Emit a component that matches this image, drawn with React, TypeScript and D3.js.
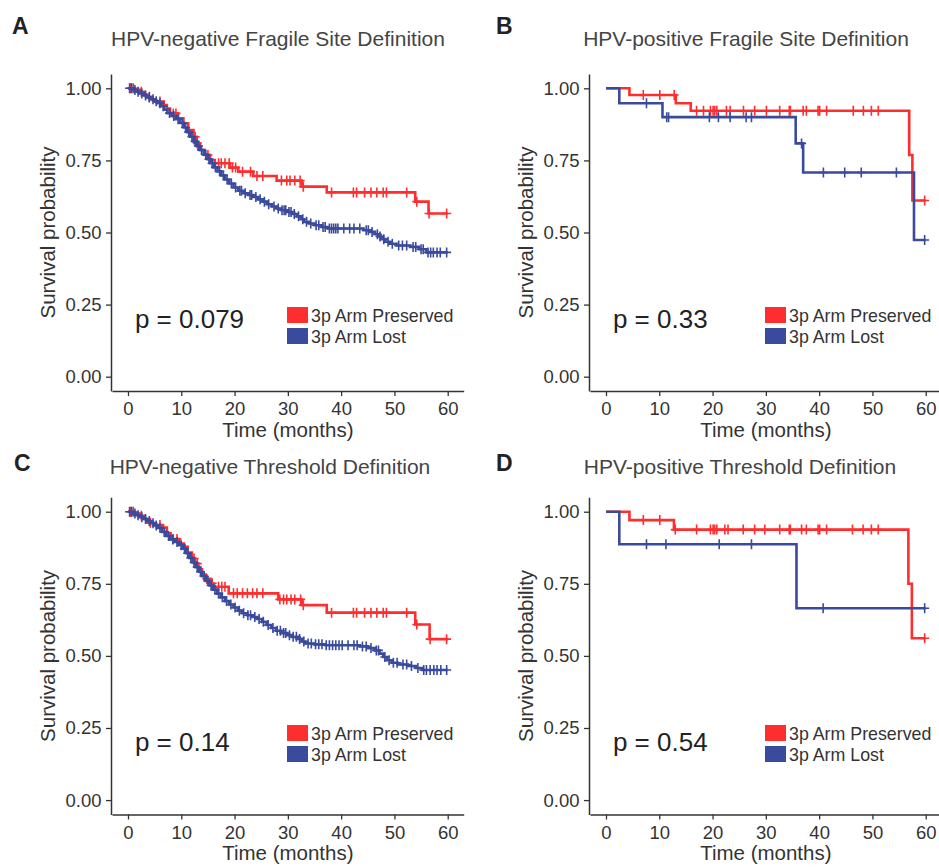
import React, { useEffect, useRef } from 'react';
import * as d3 from 'd3';

type Step = [number, number];

const timeTicks = [0, 10, 20, 30, 40, 50, 60];
const survivalTicks = [0, 0.25, 0.5, 0.75, 1];
const groupNames = ['3p Arm Preserved', '3p Arm Lost'];
const groupColors = ['#ff2e2e', '#3a4b9e'];

const panelLetters = ['A', 'B', 'C', 'D'];
const panelTitles = [
  'HPV-negative Fragile Site Definition',
  'HPV-positive Fragile Site Definition',
  'HPV-negative Threshold Definition',
  'HPV-positive Threshold Definition',
];
const pValueLabels = ['p = 0.079', 'p = 0.33', 'p = 0.14', 'p = 0.54'];
const followUpEnd = 60;

// Kaplan-Meier steps: [month, survival from that month on]
const aPreservedSteps: Step[] = [
  [0, 1.0], [1.2, 0.995], [2.2, 0.988], [3.0, 0.978], [3.5, 0.971], [4.5, 0.962], [5.1, 0.954],
  [6.7, 0.942], [7.3, 0.93], [7.9, 0.913], [9.4, 0.896], [10.4, 0.879], [11.3, 0.855], [12.3, 0.832],
  [12.9, 0.809], [13.5, 0.786], [14.4, 0.769], [15.4, 0.751], [16.3, 0.74], [19.1, 0.725],
  [20.7, 0.711], [23.5, 0.696], [27.9, 0.68], [32.6, 0.659], [37.3, 0.639], [53.9, 0.607], [56.4, 0.566],
];
const aPreservedCensored = [
  0.5, 1.0, 2.5, 4.0, 6.0, 8.5, 9.0, 12.6, 13.0, 15.0, 17.0, 17.5, 18.2, 19.0, 19.6, 20.2, 21.5, 23.0,
  24.2, 25.3, 28.8, 29.8, 30.4, 31.3, 32.3, 32.9, 38.2, 42.3, 42.9, 44.4, 45.6, 46.7, 47.9, 48.5, 52.3,
  54.2, 56.5, 59.8,
];
const aLostSteps: Step[] = [
  [0, 1.0], [0.8, 0.994], [1.5, 0.988], [2.3, 0.982], [3.0, 0.975], [3.6, 0.968], [4.3, 0.962],
  [5.0, 0.955], [5.6, 0.948], [6.2, 0.938], [6.8, 0.926], [7.4, 0.914], [8.2, 0.904], [9.0, 0.893],
  [9.8, 0.88], [10.5, 0.864], [11.1, 0.848], [11.7, 0.832], [12.3, 0.816], [12.9, 0.8], [13.5, 0.786],
  [14.2, 0.77], [14.9, 0.754], [15.5, 0.74], [16.1, 0.726], [16.8, 0.712], [17.5, 0.698], [18.2, 0.684],
  [19.0, 0.67], [19.8, 0.656], [20.7, 0.645], [21.7, 0.636], [22.6, 0.63], [23.5, 0.623], [24.4, 0.615],
  [25.3, 0.607], [26.1, 0.598], [27.0, 0.59], [27.9, 0.583], [28.8, 0.577], [29.8, 0.571], [30.8, 0.564],
  [31.7, 0.556], [32.4, 0.546], [33.0, 0.537], [34.0, 0.531], [35.0, 0.525], [36.3, 0.519], [37.5, 0.514],
  [44.2, 0.508], [45.5, 0.502], [46.3, 0.494], [47.0, 0.486], [47.6, 0.477], [48.3, 0.468], [49.2, 0.461],
  [50.4, 0.455], [53.0, 0.45], [54.6, 0.442], [56.0, 0.431],
];
const aLostCensored = [
  0.3, 0.7, 1.3, 1.9, 2.6, 3.3, 4.0, 4.7, 5.3, 6.0, 6.6, 7.8, 8.6, 9.4, 10.2, 10.8, 11.4, 12.0, 12.6,
  13.2, 13.8, 14.6, 15.2, 15.8, 16.4, 17.2, 17.9, 18.6, 19.4, 20.2, 21.0, 21.3, 22.0, 22.9, 23.2, 24.0,
  24.8, 25.6, 26.4, 27.4, 28.2, 28.9, 29.3, 29.6, 30.2, 30.6, 31.2, 32.0, 32.8, 33.5, 34.3, 35.3, 35.8,
  36.6, 37.0, 37.8, 38.2, 38.6, 39.0, 39.4, 40.5, 41.6, 42.4, 43.5, 44.7, 45.1, 45.8, 46.8, 47.3, 48.0,
  48.8, 49.6, 50.8, 51.5, 52.3, 53.5, 54.0, 55.0, 55.4, 56.3, 56.8, 57.3, 58.0, 58.6, 59.8,
];

const bPreservedSteps: Step[] = [
  [0, 1.0], [4.4, 0.977], [13.1, 0.948], [15.9, 0.922], [56.9, 0.769], [57.5, 0.611],
];
const bPreservedCensored = [
  7.0, 10.1, 12.8, 17.0, 18.3, 19.6, 20.1, 20.4, 20.8, 22.6, 23.3, 25.8, 27.9, 30.1, 32.6, 34.4, 34.6,
  37.0, 37.6, 39.8, 40.1, 41.4, 46.4, 48.3, 49.8, 51.1, 59.8,
];
const bLostSteps: Step[] = [
  [0, 1.0], [2.5, 0.948], [10.6, 0.9], [35.6, 0.809], [37.0, 0.708], [57.8, 0.474],
];
const bLostCensored = [7.6, 11.4, 11.75, 19.4, 21.1, 23.3, 26.3, 27.3, 36.7, 40.8, 44.8, 47.9, 54.5, 59.8];

const cPreservedSteps: Step[] = [
  [0, 1.0], [1.2, 0.994], [2.2, 0.986], [3.0, 0.975], [3.6, 0.962], [4.8, 0.954], [6.5, 0.945],
  [7.3, 0.925], [8.0, 0.905], [9.6, 0.89], [10.5, 0.878], [11.2, 0.858], [12.0, 0.838], [12.6, 0.82],
  [13.2, 0.8], [13.9, 0.782], [14.6, 0.767], [15.5, 0.752], [16.0, 0.74], [18.9, 0.717], [28.2, 0.696],
  [32.6, 0.676], [37.3, 0.65], [53.9, 0.609], [56.6, 0.558],
];
const cPreservedCensored = [
  0.5, 1.0, 2.5, 4.2, 6.0, 8.5, 9.2, 12.4, 13.0, 14.8, 15.8, 17.0, 17.6, 18.2, 19.8, 20.5, 21.5, 22.4,
  23.4, 24.2, 25.3, 28.5, 29.2, 29.8, 30.6, 31.3, 32.4, 32.9, 38.2, 42.3, 42.9, 44.4, 45.6, 46.7, 47.9,
  48.5, 52.3, 54.2, 56.7, 59.8,
];
const cLostSteps: Step[] = [
  [0, 1.0], [0.8, 0.994], [1.5, 0.988], [2.3, 0.981], [3.0, 0.975], [3.6, 0.968], [4.3, 0.96],
  [5.0, 0.952], [5.7, 0.944], [6.4, 0.93], [7.1, 0.916], [7.9, 0.904], [8.8, 0.895], [9.6, 0.884],
  [10.3, 0.872], [10.9, 0.856], [11.5, 0.84], [12.1, 0.824], [12.7, 0.808], [13.3, 0.792], [13.9, 0.776],
  [14.6, 0.76], [15.3, 0.744], [16.0, 0.73], [16.7, 0.716], [17.4, 0.703], [18.2, 0.69], [19.0, 0.678],
  [19.8, 0.668], [20.6, 0.657], [21.4, 0.648], [22.4, 0.641], [23.4, 0.635], [24.3, 0.628], [25.2, 0.618],
  [26.0, 0.607], [26.9, 0.597], [27.8, 0.587], [28.8, 0.579], [29.8, 0.572], [30.8, 0.566], [31.8, 0.559],
  [32.6, 0.55], [33.3, 0.543], [35.0, 0.54], [37.0, 0.537], [43.5, 0.533], [45.0, 0.527], [46.3, 0.519],
  [47.2, 0.508], [47.9, 0.496], [48.6, 0.485], [49.5, 0.476], [50.6, 0.47], [52.5, 0.465], [54.0, 0.458],
  [55.2, 0.451],
];
const cLostCensored = [
  0.3, 0.7, 1.3, 1.9, 2.6, 3.3, 4.0, 4.7, 5.3, 6.0, 6.8, 7.6, 8.4, 9.2, 10.0, 10.6, 11.2, 11.8, 12.4,
  13.0, 13.6, 14.3, 15.0, 15.6, 16.3, 17.0, 17.7, 18.5, 19.3, 20.1, 20.9, 21.7, 22.5, 23.0, 23.8, 24.6,
  25.4, 26.3, 27.2, 28.0, 28.6, 29.2, 29.6, 30.3, 31.0, 31.6, 32.2, 33.0, 33.8, 34.4, 35.2, 35.8, 36.4,
  37.2, 37.8, 38.4, 39.0, 39.6, 40.2, 41.3, 42.4, 43.0, 44.0, 44.7, 45.6, 46.6, 47.0, 48.2, 49.0, 49.8,
  50.5, 51.6, 52.3, 53.2, 54.4, 55.5, 56.0, 56.7, 57.4, 58.0, 58.7, 59.8,
];

const dPreservedSteps: Step[] = [
  [0, 1.0], [4.4, 0.971], [12.75, 0.938], [56.75, 0.75], [57.4, 0.561],
];
const dPreservedCensored = [
  7.0, 10.1, 13.0, 17.0, 19.6, 20.1, 20.4, 20.8, 22.3, 22.9, 25.75, 27.9, 29.8, 32.6, 34.4, 34.6, 36.7,
  37.6, 39.8, 40.1, 41.4, 46.25, 48.25, 49.8, 51.1, 59.8,
];
const dLostSteps: Step[] = [[0, 1.0], [2.5, 0.887], [35.75, 0.665]];
const dLostCensored = [7.6, 11.25, 21.25, 27.3, 40.75, 59.8];

const panelSeries = [
  [{ steps: aPreservedSteps, censored: aPreservedCensored }, { steps: aLostSteps, censored: aLostCensored }],
  [{ steps: bPreservedSteps, censored: bPreservedCensored }, { steps: bLostSteps, censored: bLostCensored }],
  [{ steps: cPreservedSteps, censored: cPreservedCensored }, { steps: cLostSteps, censored: cLostCensored }],
  [{ steps: dPreservedSteps, censored: dPreservedCensored }, { steps: dLostSteps, censored: dLostCensored }],
];

const W = 939;
const H = 867;
const FONT = '"Liberation Sans", Arial, Helvetica, sans-serif';
const colOffset = [0, 478];
const rowOffset = [0, 423.4];
const titleX = [278, 746, 270, 740];
const titleY = [46, 46, 474, 474];
const letterX = [12, 496, 14, 496];
const letterY = [34, 34, 471, 471];
const legendTop = [307, 301.6];

function survivalAt(steps: Step[], t: number) {
  let s = steps[0][1];
  for (const [time, value] of steps) {
    if (time <= t) s = value;
  }
  return s;
}

export default function App() {
  const ref = useRef<SVGSVGElement>(null);

  useEffect(() => {
    const svg = d3.select(ref.current);
    svg.selectAll('*').remove();
    svg.append('rect').attr('width', W).attr('height', H).attr('fill', '#fff');

    panelSeries.forEach((series, i) => {
      const col = i % 2;
      const row = Math.floor(i / 2);
      const g = svg.append('g').attr('transform', `translate(${colOffset[col]},${rowOffset[row]})`);

      const x = d3.scaleLinear().domain([-3, 63]).range([112, 463.7]);
      const y = d3.scaleLinear().domain([-0.05, 1.05]).range([391.1, 73.9]);

      // axes
      const xAxis = g.append('g')
        .attr('transform', `translate(0,${y(-0.05)})`)
        .call(d3.axisBottom(x).tickValues(timeTicks).tickSize(5).tickSizeOuter(0).tickPadding(6));
      const yAxis = g.append('g')
        .attr('transform', `translate(${x(-3) - 1},0)`)
        .call(d3.axisLeft(y).tickValues(survivalTicks).tickFormat(d3.format('.2f')).tickSize(5).tickSizeOuter(0).tickPadding(4.5));
      [xAxis, yAxis].forEach(ax => {
        ax.select('.domain').attr('stroke', '#333').attr('stroke-width', 1.5);
        ax.selectAll('.tick line').attr('stroke', '#333').attr('stroke-width', 1.3);
        ax.selectAll('.tick text')
          .attr('fill', '#333')
          .style('font-family', FONT)
          .style('font-size', '18.5px');
      });

      // curves
      const line = d3.line<Step>()
        .x(d => x(d[0]))
        .y(d => y(d[1]))
        .curve(d3.curveStepAfter);

      series.forEach((s, k) => {
        const last = s.steps[s.steps.length - 1][1];
        const pts: Step[] = [...s.steps, [followUpEnd, last]];
        g.append('path')
          .attr('d', line(pts))
          .attr('fill', 'none')
          .attr('stroke', groupColors[k])
          .attr('stroke-width', 2.6);

        g.append('g')
          .selectAll('path')
          .data(s.censored)
          .enter().append('path')
          .attr('d', t => {
            const cx = x(t);
            const cy = y(survivalAt(s.steps, t));
            return `M${cx - 4.5},${cy}h9M${cx},${cy - 5}v10`;
          })
          .attr('stroke', groupColors[k])
          .attr('stroke-width', 1.6)
          .attr('fill', 'none');
      });

      // p value
      g.append('text')
        .attr('x', x(1.3))
        .attr('y', 328)
        .attr('fill', '#222')
        .style('font-family', FONT)
        .style('font-size', '26px')
        .text(pValueLabels[i]);

      // legend
      const lg = g.append('g').attr('transform', `translate(287,${legendTop[row]})`);
      groupNames.forEach((name, k) => {
        lg.append('rect')
          .attr('x', 0)
          .attr('y', k * 21)
          .attr('width', 21)
          .attr('height', 16)
          .attr('fill', groupColors[k]);
        lg.append('text')
          .attr('x', 24)
          .attr('y', k * 21 + 14.5)
          .attr('fill', '#333')
          .style('font-family', FONT)
          .style('font-size', '17.8px')
          .text(name);
      });

      // axis titles
      g.append('text')
        .attr('x', (x(-3) + x(63)) / 2)
        .attr('y', 437)
        .attr('text-anchor', 'middle')
        .attr('fill', '#333')
        .style('font-family', FONT)
        .style('font-size', '20.5px')
        .text('Time (months)');
      g.append('text')
        .attr('transform', `translate(55,${(y(-0.05) + y(1.05)) / 2}) rotate(-90)`)
        .attr('text-anchor', 'middle')
        .attr('fill', '#333')
        .style('font-family', FONT)
        .style('font-size', '20.5px')
        .text('Survival probability');

      // title and panel letter
      svg.append('text')
        .attr('x', titleX[i])
        .attr('y', titleY[i])
        .attr('text-anchor', 'middle')
        .attr('fill', '#444')
        .style('font-family', FONT)
        .style('font-size', '21px')
        .text(panelTitles[i]);
      svg.append('text')
        .attr('x', letterX[i])
        .attr('y', letterY[i])
        .attr('fill', '#222')
        .style('font-family', FONT)
        .style('font-size', '23px')
        .style('font-weight', 'bold')
        .text(panelLetters[i]);
    });
  }, []);

  return (
    <svg
      ref={ref}
      width={W}
      height={H}
      style={{ position: 'absolute', left: 0, top: 0, display: 'block' }}
    />
  );
}
